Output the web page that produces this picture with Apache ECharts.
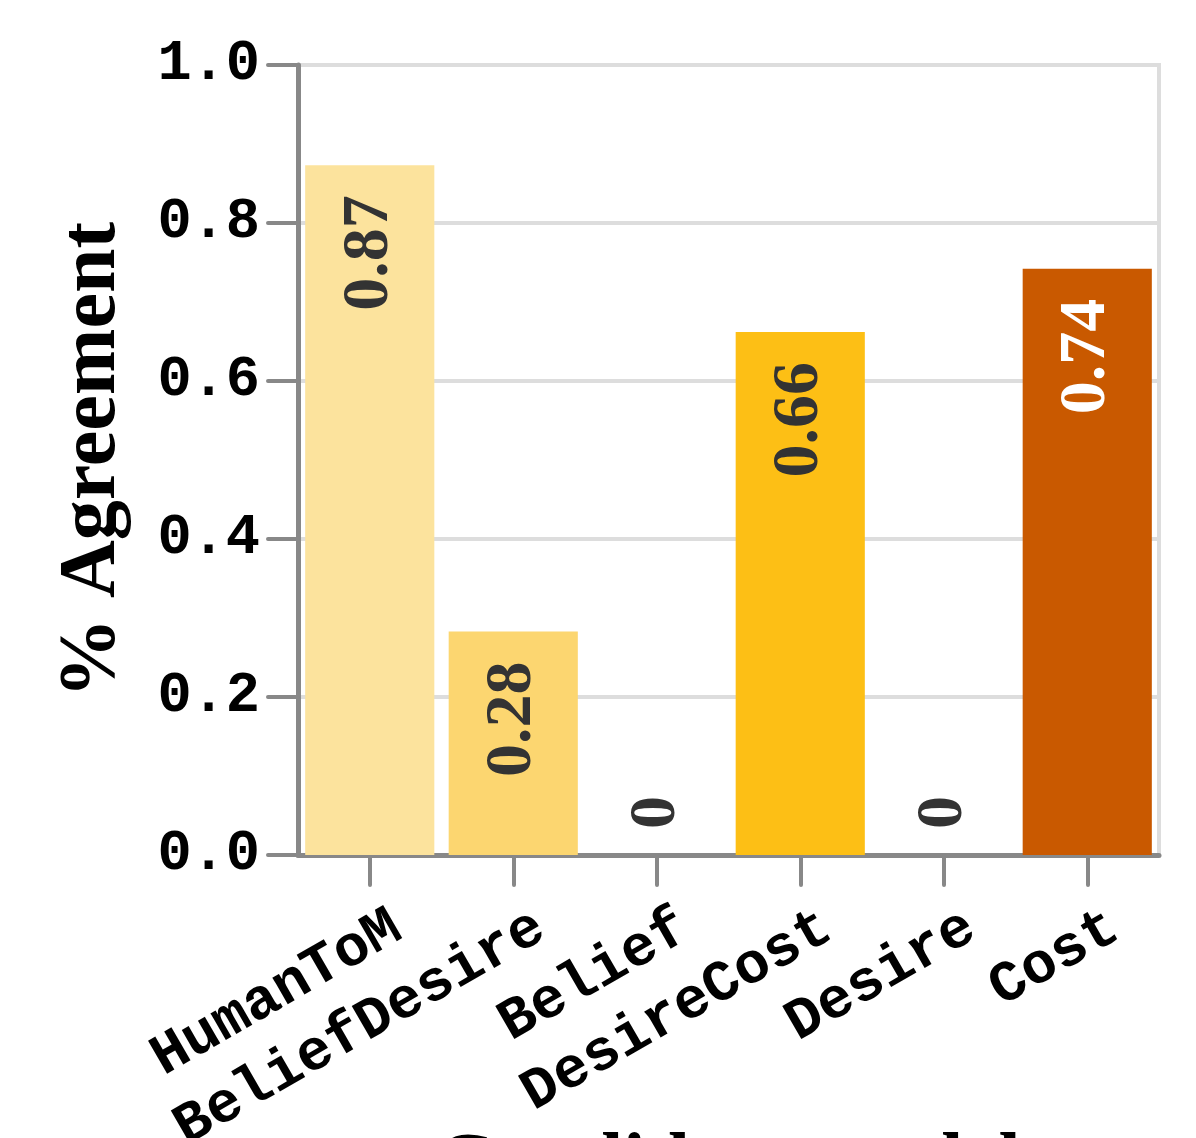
<!DOCTYPE html>
<html>
<head>
<meta charset="utf-8">
<script src="https://cdn.jsdelivr.net/npm/echarts@6/dist/echarts.min.js"></script>
<style>
html,body{margin:0;padding:0;background:#fff;}
#chart{width:1196px;height:1138px;}
</style>
</head>
<body>
<div id="chart"></div>
<script>
const categories = ['HumanToM', 'BeliefDesire', 'Belief', 'DesireCost', 'Desire', 'Cost'];
const values = [0.873, 0.283, 0, 0.662, 0, 0.742];
const valueLabels = ['0.87', '0.28', '0', '0.66', '0', '0.74'];
const barColors = ['#fce39d', '#fcd670', '#fdbf15', '#fdbf15', '#e08a00', '#c95900'];
const labelColors = ['#333333', '#333333', '#333333', '#333333', '#333333', '#ffffff'];
const yTicks = [0, 0.2, 0.4, 0.6, 0.8, 1.0];

const chart = echarts.init(document.getElementById('chart'), null, {renderer: 'canvas'});

const serif = '"Liberation Serif", "DejaVu Serif", serif';
const mono = '"Liberation Mono", "DejaVu Sans Mono", monospace';

const data = values.map((v, i) => ({
  value: v,
  itemStyle: {color: barColors[i]},
  label: v === 0 ? {
    position: 'top', distance: 26, align: 'left', verticalAlign: 'middle', color: labelColors[i]
  } : {
    position: 'insideTop', distance: 30, align: 'right', verticalAlign: 'middle', color: labelColors[i]
  }
}));

chart.setOption({
  animation: false,
  grid: {
    left: 298, right: 37, top: 65, bottom: 283,
    outerBoundsMode: 'none',
    containLabel: false,
    show: true, borderColor: '#dddddd', borderWidth: 4, backgroundColor: 'transparent'
  },
  xAxis: {
    type: 'category',
    data: categories,
    name: 'Candidate model',
    nameLocation: 'middle',
    nameGap: 272,
    nameMoveOverlap: false,
    nameTextStyle: {fontFamily: serif, fontWeight: 'bold', fontSize: 80, color: '#000'},
    axisLine: {show: true, lineStyle: {color: '#888888', width: 5, cap: 'round'}},
    axisTick: {show: true, alignWithLabel: true, length: 30, lineStyle: {color: '#888888', width: 4, cap: 'round'}},
    axisLabel: {
      interval: 0, rotate: 30, margin: 85,
      padding: [0, -32, 0, 0],
      fontFamily: mono, fontWeight: 'bold', fontSize: 58, color: '#000'
    },
    splitLine: {show: false}
  },
  yAxis: {
    type: 'value',
    min: 0, max: 1, interval: 0.2,
    name: '% Agreement',
    nameLocation: 'middle',
    nameGap: 165,
    nameRotate: 90,
    nameMoveOverlap: false,
    nameTextStyle: {fontFamily: serif, fontWeight: 'bold', fontSize: 80, color: '#000'},
    axisLine: {show: true, lineStyle: {color: '#888888', width: 5, cap: 'round'}},
    axisTick: {show: true, length: 30, lineStyle: {color: '#888888', width: 4, cap: 'round'}},
    axisLabel: {
      margin: 38,
      fontFamily: mono, fontWeight: 'bold', fontSize: 57, color: '#000',
      formatter: v => yTicks.includes(Math.round(v * 10) / 10) ? v.toFixed(1) : ''
    },
    splitLine: {show: true, lineStyle: {color: '#dddddd', width: 4}}
  },
  series: [{
    type: 'bar',
    data: data,
    barCategoryGap: '10%',
    label: {
      show: true,
      rotate: 90,
      fontFamily: serif,
      fontWeight: 'bold',
      fontSize: 66,
      formatter: p => valueLabels[p.dataIndex]
    }
  }]
});
</script>
</body>
</html>
